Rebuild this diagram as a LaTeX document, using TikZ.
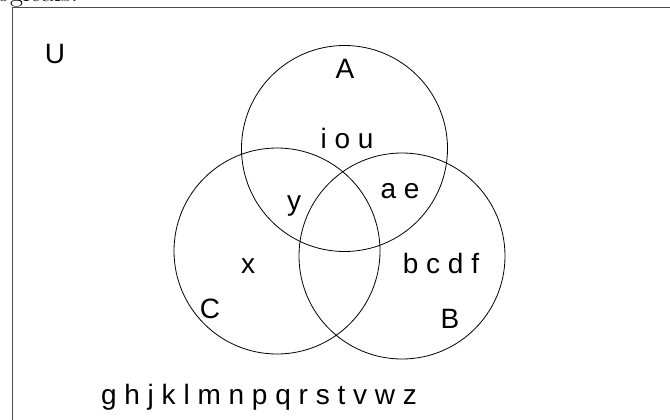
\documentclass[tikz,border=0pt]{standalone}
\usepackage{fontspec}
\newfontfamily\vennfont{Liberation Sans}
\usepackage{tikz}

\begin{document}
\begin{tikzpicture}[x=1pt, y=-1pt, font=\vennfont\fontsize{28}{32}\selectfont,
  set/.style={draw=black, circle, minimum size=206pt, inner sep=0pt, line width=0.8pt},
  lbl/.style={anchor=base, inner sep=0pt},
  frame/.style={draw=black!70, line width=1.4pt, anchor=north west,
                minimum width=700pt, minimum height=460pt, inner sep=0pt}]
\useasboundingbox (0,0) rectangle (670,420);
% title, cut off at the top of the page
\node[anchor=base west, inner sep=0pt, font=\rmfamily\fontsize{28}{32}\selectfont] (title) at (-3,2) {ogicals.};
% universe
\node[frame] (univ) at (12,7) {};
\node[lbl] (uname) at (55,64) {U};
% the three sets
\node[set] (A) at (344.5,148.5) {};
\node[set] (C) at (277,251) {};
\node[set] (B) at (402,256) {};
\node[lbl] (aname) at (345,78) {A};
\node[lbl] (cname) at (210,318) {C};
\node[lbl] (bname) at (450,328) {B};
% members
\node[lbl] (onlyA) at (347,148) {i o u};
\node[lbl] (AC) at (294,210) {y};
\node[lbl] (AB) at (400,198) {a e};
\node[lbl] (onlyC) at (248,273) {x};
\node[lbl] (onlyB) at (441,273) {b c d f};
\node[lbl] (rest) at (259,404) {g h j k l m n p q r s t v w z};
\end{tikzpicture}
\end{document}
